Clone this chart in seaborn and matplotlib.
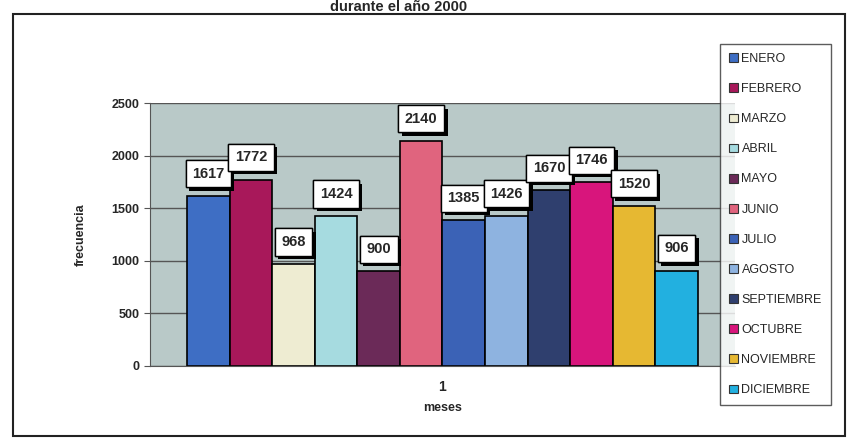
import numpy as np
import pandas as pd
import seaborn as sns
import matplotlib.pyplot as plt
import matplotlib.patheffects as pe
from matplotlib.patches import Rectangle

# datos del grafico
meses = ['ENERO', 'FEBRERO', 'MARZO', 'ABRIL', 'MAYO', 'JUNIO', 'JULIO',
         'AGOSTO', 'SEPTIEMBRE', 'OCTUBRE', 'NOVIEMBRE', 'DICIEMBRE']
frecuencia = [1617, 1772, 968, 1424, 900, 2140, 1385, 1426, 1670, 1746, 1520, 906]
colores = ['#3e6ec4', '#a8185a', '#eeecd2', '#a6dbe0', '#6b2a58', '#e0647e',
           '#3b62b6', '#8eb3e0', '#2f3f6e', '#d8157c', '#e6b832', '#22b0e0']
grupo = ['1'] * len(meses)

df = pd.DataFrame({'grupo': grupo, 'mes': meses, 'frecuencia': frecuencia})

sns.set_style("white")
plt.rcParams['font.family'] = ['Liberation Sans', 'DejaVu Sans']

fig = plt.figure(figsize=(8.49, 4.41), dpi=100)
ax = fig.add_axes([150 / 849, 1 - 366 / 441, (735 - 150) / 849, (366 - 103) / 441])

sns.barplot(data=df, x='grupo', y='frecuencia', hue='mes', hue_order=meses,
            palette=colores, width=0.8, edgecolor='black', linewidth=1.2,
            saturation=1, ax=ax, legend=False)

ax.set_facecolor('#b9c9c8')
ax.set_ylim(0, 2500)
ax.set_xlim(-0.458, 0.458)
ax.set_yticks([0, 500, 1000, 1500, 2000, 2500])
ax.yaxis.grid(True, color='#555555', linewidth=1.0)
ax.set_axisbelow(True)
for s in ['top', 'right']:
    ax.spines[s].set_visible(False)
ax.spines['left'].set_color('#555555')
ax.spines['bottom'].set_color('#555555')
ax.tick_params(axis='y', length=4, left=True, color='#555555', labelsize=9)
ax.tick_params(axis='x', length=0, labelsize=10, pad=10)
for t in ax.get_yticklabels() + ax.get_xticklabels():
    t.set_fontweight('bold')
ax.set_ylabel('frecuencia', fontsize=9, fontweight='bold', labelpad=18)
ax.set_xlabel('meses', fontsize=9, fontweight='bold', labelpad=6)

# etiquetas con caja (y sombra) sobre cada barra
for bar, val in zip(ax.patches, frecuencia):
    xc = bar.get_x() + bar.get_width() / 2
    ann = ax.annotate(str(val), (xc, val), xytext=(0, 16), textcoords='offset points',
                      ha='center', va='center', fontsize=10.5, fontweight='bold',
                      bbox=dict(boxstyle='square,pad=0.45', fc='white', ec='black', lw=1.0),
                      zorder=5)
    ann.get_bbox_patch().set_path_effects(
        [pe.withSimplePatchShadow(offset=(2.5, -2.5), shadow_rgbFace='black', alpha=1.0),
         pe.Normal()])

# leyenda
handles = [Rectangle((0, 0), 1, 1, fc=c, ec='#333333', lw=0.8) for c in colores]
fig.legend(handles, meses, loc='upper left', bbox_to_anchor=(714 / 849, 1 - 38 / 441),
           frameon=True, fancybox=False, edgecolor='#333333', fontsize=9,
           handlelength=0.7, handleheight=0.7, handletextpad=0.3,
           labelspacing=1.45, borderpad=0.7)

# marco del grafico
fig.patches.append(Rectangle((13 / 849, 1 - 436 / 441), (845 - 13) / 849, (436 - 14) / 441,
                             transform=fig.transFigure, fill=False, ec='#222222', lw=1.5))

fig.text(0.47, 1.0, 'durante el año 2000', ha='center', va='top',
         fontsize=10.5, fontweight='bold')

plt.savefig('out.png', dpi=100)
